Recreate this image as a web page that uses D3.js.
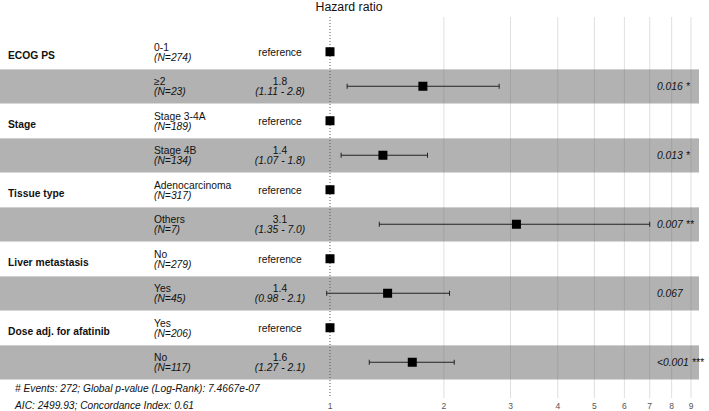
<!DOCTYPE html>
<html>
<head>
<meta charset="utf-8">
<script src="https://cdn.jsdelivr.net/npm/d3@7"></script>
<style>
  body { margin: 0; background: #fff; }
  svg text { font-family: "Liberation Sans", Arial, sans-serif; }
</style>
</head>
<body>
<svg id="vis" width="709" height="411"></svg>
<script>
// variables and their levels (reference level first)
const variables = ["ECOG PS", "Stage", "Tissue type", "Liver metastasis", "Dose adj. for afatinib"];
const refLevels = ["0-1", "Stage 3-4A", "Adenocarcinoma", "No", "Yes"];
const refN = [274, 189, 317, 279, 206];
const cmpLevels = ["\u22652", "Stage 4B", "Others", "Yes", "No"];
const cmpN = [23, 134, 7, 45, 117];
const hr = [1.76, 1.38, 3.11, 1.42, 1.65];
const hrLabel = ["1.8", "1.4", "3.1", "1.4", "1.6"];
const ciLow = [1.11, 1.07, 1.35, 0.98, 1.27];
const ciHigh = [2.8, 1.81, 7.0, 2.07, 2.13];
const ciLabel = ["(1.11 - 2.8)", "(1.07 - 1.8)", "(1.35 - 7.0)", "(0.98 - 2.1)", "(1.27 - 2.1)"];
const pLabel = ["0.016 *", "0.013 *", "0.007 **", "0.067", "<0.001 ***"];
const ticks = [1, 2, 3, 4, 5, 6, 7, 8, 9];
const footer = ["# Events: 272; Global p-value (Log-Rank): 7.4667e-07",
                "AIC: 2499.93; Concordance Index: 0.61"];

const svg = d3.select("svg#vis");

// build row table: two rows per variable
const rows = [];
variables.forEach(function(v, i) {
  rows.push({ variable: v, level: refLevels[i], n: refN[i], ref: true, hr: 1 });
  rows.push({ variable: "", level: cmpLevels[i], n: cmpN[i], ref: false,
              hr: hr[i], lo: ciLow[i], hi: ciHigh[i], hrText: hrLabel[i],
              ciText: ciLabel[i], p: pLabel[i] });
});

const y = d3.scaleBand()
  .domain(d3.range(rows.length))
  .range([34.5, 379.5]);

const x = d3.scaleLog()
  .domain([1, 9])
  .range([330, 691]);

// shaded bands
svg.append("g").selectAll("rect")
  .data(rows.filter(function(d) { return !d.ref; }))
  .enter()
  .append("rect")
  .attr("x", 0)
  .attr("y", function(d) { return y(rows.indexOf(d)); })
  .attr("width", 699)
  .attr("height", y.bandwidth())
  .attr("fill", "#b2b2b2");

// band top highlight
svg.append("g").selectAll("line")
  .data(rows.filter(function(d) { return !d.ref; }))
  .enter()
  .append("line")
  .attr("x1", 0).attr("x2", 699)
  .attr("y1", function(d) { return y(rows.indexOf(d)) + 0.5; })
  .attr("y2", function(d) { return y(rows.indexOf(d)) + 0.5; })
  .attr("stroke", "#cfcfcf");

// grid lines
svg.append("g").selectAll("line")
  .data(ticks.filter(function(t) { return t > 1; }))
  .enter()
  .append("line")
  .attr("x1", function(d) { return x(d); })
  .attr("x2", function(d) { return x(d); })
  .attr("y1", 17).attr("y2", 398)
  .attr("stroke", "#6e6e6e")
  .attr("stroke-opacity", 0.22)
  .attr("stroke-width", 1);

// reference line at 1
svg.append("line")
  .attr("x1", x(1)).attr("x2", x(1))
  .attr("y1", 17).attr("y2", 398)
  .attr("stroke", "#555")
  .attr("stroke-width", 1)
  .attr("stroke-dasharray", "1,2");

// axis tick labels
svg.append("g").selectAll("text")
  .data(ticks)
  .enter()
  .append("text")
  .attr("x", function(d) { return x(d); })
  .attr("y", 409)
  .attr("text-anchor", "middle")
  .attr("font-size", 8.5)
  .attr("fill", "#555")
  .text(function(d) { return d; });

// title
svg.append("text")
  .attr("x", 349)
  .attr("y", 11)
  .attr("text-anchor", "middle")
  .attr("font-size", 12.3)
  .attr("fill", "#111")
  .text("Hazard ratio");

const row = svg.append("g").selectAll("g")
  .data(rows)
  .enter()
  .append("g")
  .attr("transform", function(d, i) { return "translate(0," + (y(i) + y.bandwidth() / 2) + ")"; });

// variable names
row.append("text")
  .attr("x", 8)
  .attr("y", 7)
  .attr("font-size", 10.3)
  .attr("font-weight", "bold")
  .attr("fill", "#111")
  .text(function(d) { return d.variable; });

// level and N
row.append("text")
  .attr("x", 154)
  .attr("y", -1)
  .attr("font-size", 10.3)
  .attr("fill", "#111")
  .text(function(d) { return d.level; });
row.append("text")
  .attr("x", 154)
  .attr("y", 9)
  .attr("font-size", 10.3)
  .attr("font-style", "italic")
  .attr("fill", "#111")
  .text(function(d) { return "(N=" + d.n + ")"; });

// estimate column
row.filter(function(d) { return d.ref; })
  .append("text")
  .attr("x", 280).attr("y", 4)
  .attr("text-anchor", "middle")
  .attr("font-size", 10.3)
  .attr("fill", "#111")
  .text("reference");
row.filter(function(d) { return !d.ref; })
  .append("text")
  .attr("x", 280).attr("y", -1)
  .attr("text-anchor", "middle")
  .attr("font-size", 10.3)
  .attr("fill", "#111")
  .text(function(d) { return d.hrText; });
row.filter(function(d) { return !d.ref; })
  .append("text")
  .attr("x", 280).attr("y", 9)
  .attr("text-anchor", "middle")
  .attr("font-size", 10.3)
  .attr("font-style", "italic")
  .attr("fill", "#111")
  .text(function(d) { return d.ciText; });

// confidence intervals
const ci = row.filter(function(d) { return !d.ref; });
ci.append("line")
  .attr("x1", function(d) { return x(d.lo); })
  .attr("x2", function(d) { return x(d.hi); })
  .attr("y1", 0).attr("y2", 0)
  .attr("stroke", "#222").attr("stroke-width", 1.2);
ci.append("line")
  .attr("x1", function(d) { return x(d.lo); })
  .attr("x2", function(d) { return x(d.lo); })
  .attr("y1", -2.5).attr("y2", 2.5)
  .attr("stroke", "#222").attr("stroke-width", 1);
ci.append("line")
  .attr("x1", function(d) { return x(d.hi); })
  .attr("x2", function(d) { return x(d.hi); })
  .attr("y1", -2.5).attr("y2", 2.5)
  .attr("stroke", "#222").attr("stroke-width", 1);

// point estimates
row.append("rect")
  .attr("x", function(d) { return x(d.hr) - 4.5; })
  .attr("y", -4.5)
  .attr("width", 9).attr("height", 9)
  .attr("fill", "#000");

// p values
ci.append("text")
  .attr("x", 657).attr("y", 4)
  .attr("font-size", 10.3)
  .attr("font-style", "italic")
  .attr("fill", "#111")
  .text(function(d) { return d.p; });

// footer
svg.append("g").selectAll("text")
  .data(footer)
  .enter()
  .append("text")
  .attr("x", 15)
  .attr("y", function(d, i) { return 392 + i * 17; })
  .attr("font-size", 10.2)
  .attr("font-style", "italic")
  .attr("fill", "#111")
  .text(function(d) { return d; });
</script>
</body>
</html>
